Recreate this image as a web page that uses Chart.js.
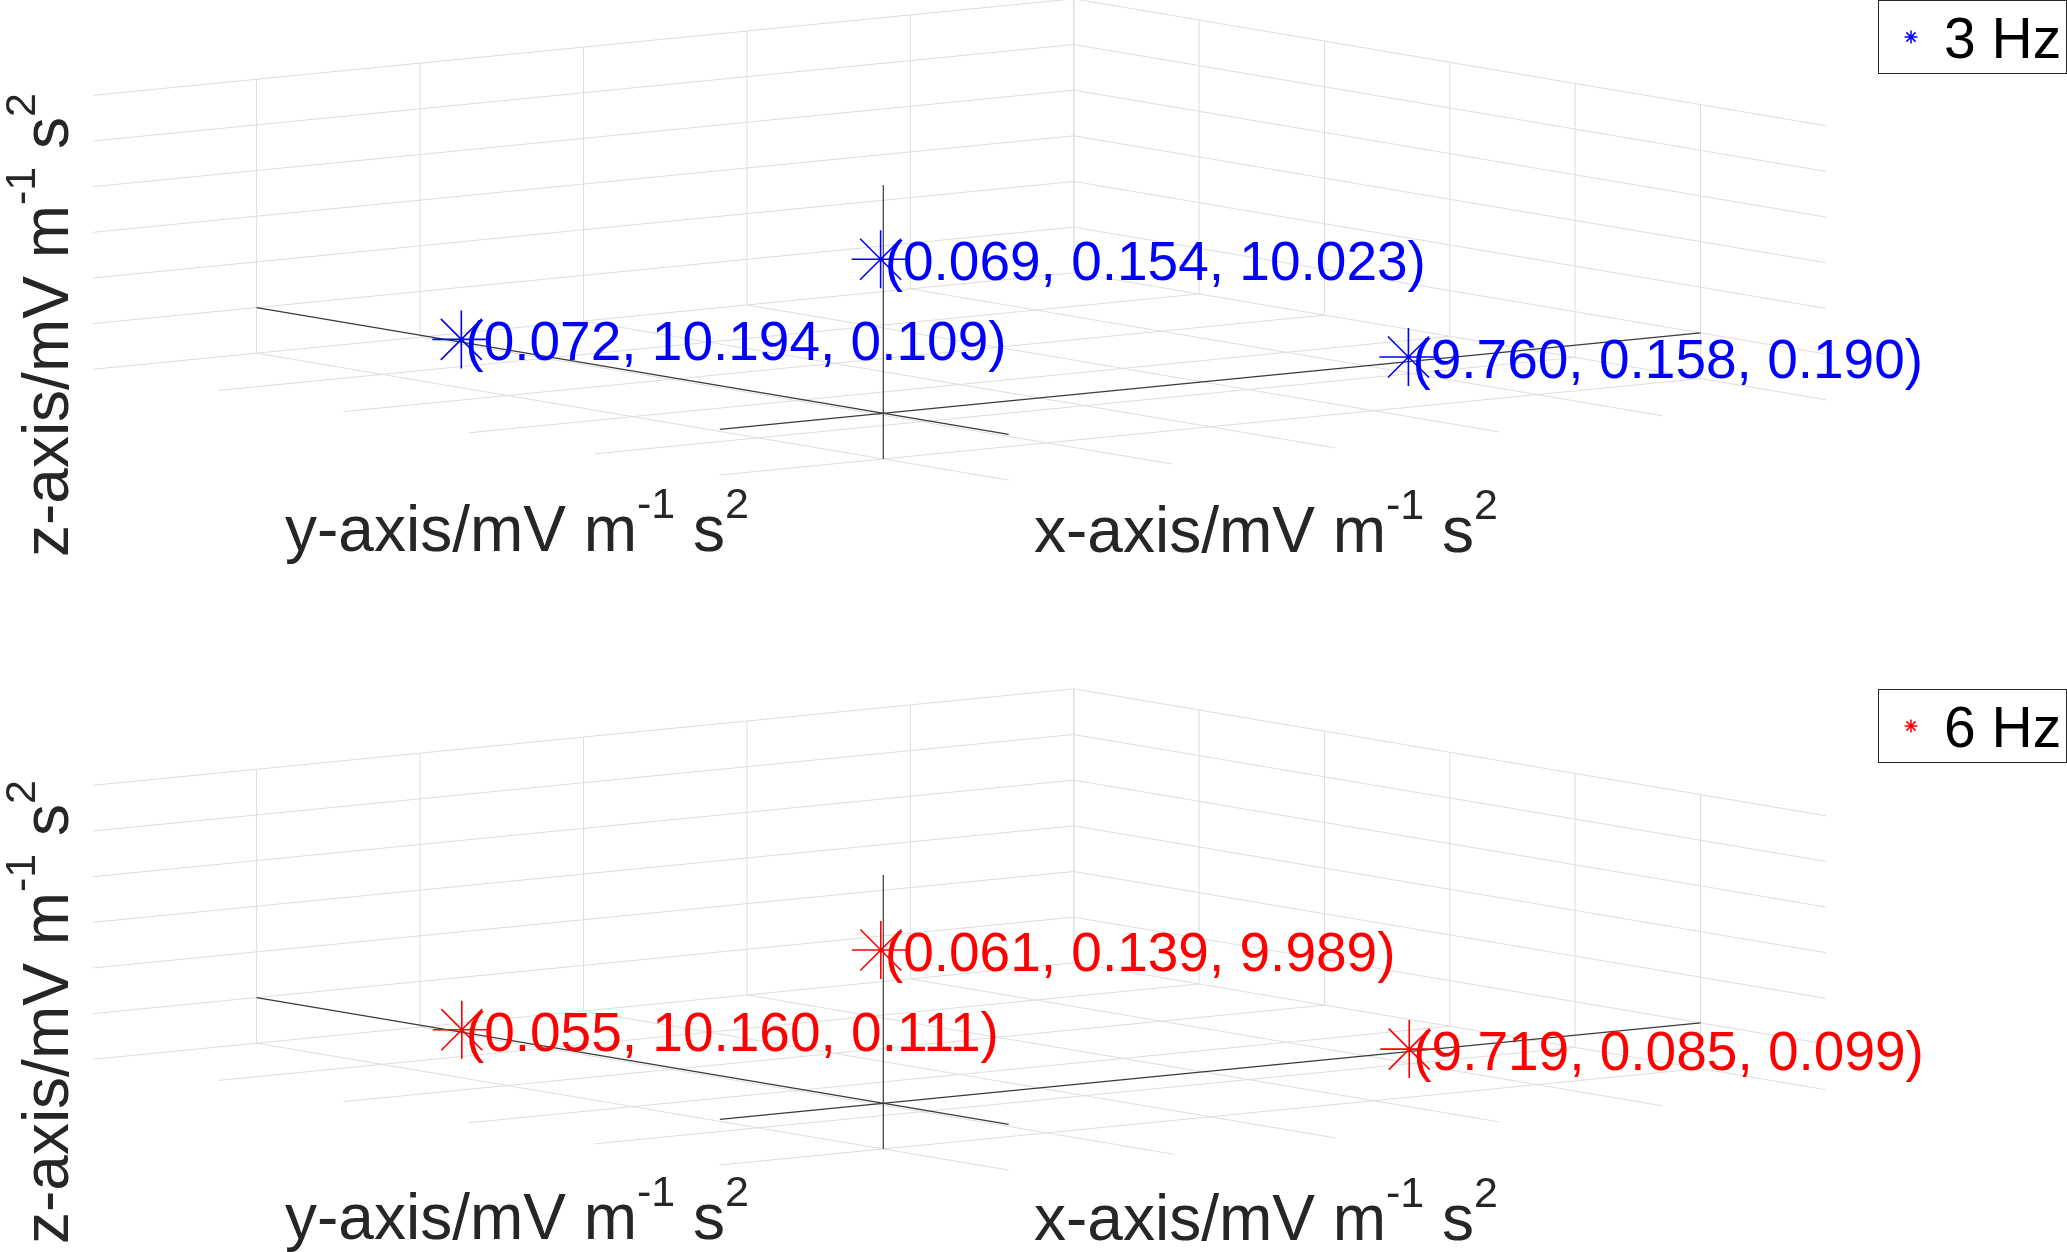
<!DOCTYPE html>
<html>
<head>
<meta charset="utf-8">
<script src="https://cdn.jsdelivr.net/npm/chart.js@4.4.0/dist/chart.umd.min.js"></script>
<style>
  html, body { margin: 0; padding: 0; background: #fff; overflow: hidden; }
  canvas { display: block; }
</style>
</head>
<body>
<canvas id="top" width="2067" height="626"></canvas>
<canvas id="bottom" width="2067" height="626"></canvas>
<script>
// axes: all three run from -3 to 15, grid every 3
const axisRange = [-3, 15];
const gridTicks = [0, 3, 6, 9, 12, 15];

const legendLabels = ['3 Hz', '6 Hz'];

// measured vectors (x, y, z) for the three orientations
const xValues3Hz = [0.069, 0.072, 9.760];
const yValues3Hz = [0.154, 10.194, 0.158];
const zValues3Hz = [10.023, 0.109, 0.190];

const xValues6Hz = [0.061, 0.055, 9.719];
const yValues6Hz = [0.139, 10.160, 0.085];
const zValues6Hz = [9.989, 0.111, 0.099];

// orthographic view, pixels per data unit (y up)
const VIEW = { ex: [54.48, 5.36], ey: [-41.78, 7.05], ez: [0, 15.22] };
const W = 2067, H = 626, ORIGIN_X = 883.3;
const FONT = '"Liberation Sans", Arial, Helvetica, sans-serif';

function project(x, y, z) {
  return {
    x: VIEW.ex[0] * x + VIEW.ey[0] * y + VIEW.ez[0] * z,
    y: VIEW.ex[1] * x + VIEW.ey[1] * y + VIEW.ez[1] * z
  };
}

function gridSegments() {
  const [lo, hi] = axisRange;
  const segs = [];
  gridTicks.forEach(t => {
    segs.push([[t, hi, lo], [t, hi, hi]]);   // back wall y = hi
    segs.push([[lo, hi, t], [hi, hi, t]]);
    segs.push([[hi, t, lo], [hi, t, hi]]);   // back wall x = hi
    segs.push([[hi, lo, t], [hi, hi, t]]);
    segs.push([[t, lo, lo], [t, hi, lo]]);   // floor z = lo
    segs.push([[lo, t, lo], [hi, t, lo]]);
  });
  return segs;
}

function axisSegments() {
  const [lo, hi] = axisRange;
  return [
    [[lo, 0, 0], [hi, 0, 0]],
    [[0, lo, 0], [0, hi, 0]],
    [[0, 0, lo], [0, 0, hi]]
  ];
}

function drawStar(ctx, x, y, r) {
  ctx.beginPath();
  for (let k = 0; k < 4; k++) {
    const a = k * Math.PI / 4;
    ctx.moveTo(x - r * Math.cos(a), y - r * Math.sin(a));
    ctx.lineTo(x + r * Math.cos(a), y + r * Math.sin(a));
  }
  ctx.stroke();
}

function drawUnitLabel(ctx, name, x, y, rotate) {
  ctx.save();
  ctx.translate(x, y);
  if (rotate) ctx.rotate(-Math.PI / 2);
  ctx.fillStyle = '#262626';
  ctx.textAlign = 'left';
  ctx.textBaseline = 'alphabetic';
  const parts = [[name + '-axis/mV m', false], ['-1', true], [' s', false], ['2', true]];
  let cx = 0;
  parts.forEach(([t, sup]) => {
    ctx.font = (sup ? '43px ' : '64px ') + FONT;
    ctx.fillText(t, cx, sup ? -33 : 0);
    cx += ctx.measureText(t).width;
  });
  ctx.restore();
}

function makeDecor(panel) {
  return {
    id: 'decor',
    afterDraw(chart) {
      const ctx = chart.ctx;
      const sx = chart.scales.x, sy = chart.scales.y;
      ctx.save();

      // point annotations
      ctx.font = '55px ' + FONT;
      ctx.fillStyle = panel.color;
      ctx.textAlign = 'left';
      ctx.textBaseline = 'alphabetic';
      panel.xs.forEach((xv, i) => {
        const p = project(xv, panel.ys[i], panel.zs[i]);
        const px = sx.getPixelForValue(p.x), py = sy.getPixelForValue(p.y);
        const txt = '(' + xv.toFixed(3) + ', ' + panel.ys[i].toFixed(3) + ', ' + panel.zs[i].toFixed(3) + ')';
        ctx.fillText(txt, px + 4, py + 21);
      });

      // axis titles
      drawUnitLabel(ctx, 'y', 285, panel.labelBase, false);
      drawUnitLabel(ctx, 'x', 1034, panel.labelBase + 0.5, false);
      drawUnitLabel(ctx, 'z', 68, panel.zLabelStart, true);

      // legend
      const lt = panel.legendTop;
      ctx.fillStyle = '#fff';
      ctx.fillRect(1878.5, lt, 188, 73);
      ctx.strokeStyle = '#262626';
      ctx.lineWidth = 1;
      ctx.strokeRect(1878.5, lt, 188, 73);
      ctx.strokeStyle = panel.color;
      ctx.lineWidth = 1.5;
      drawStar(ctx, 1911, lt + 36.5, 6.5);
      ctx.fillStyle = '#000';
      ctx.font = '57px ' + FONT;
      ctx.fillText(panel.label, 1944, lt + 57);

      ctx.restore();
    }
  };
}

function lineDataset(seg, color, width, order) {
  return {
    type: 'scatter',
    showLine: true,
    data: seg.map(p => project(p[0], p[1], p[2])),
    borderColor: color,
    borderWidth: width,
    pointRadius: 0,
    order: order
  };
}

function buildChart(canvasId, panel) {
  const datasets = [{
    type: 'scatter',
    data: panel.xs.map((xv, i) => project(xv, panel.ys[i], panel.zs[i])),
    pointStyle: 'star',
    pointRadius: 29,
    pointBorderColor: panel.color,
    pointBackgroundColor: 'transparent',
    pointBorderWidth: 1.6,
    order: 0
  }];
  axisSegments().forEach(s => datasets.push(lineDataset(s, '#3a3a3a', 1.2, 1)));
  gridSegments().forEach(s => datasets.push(lineDataset(s, '#dedede', 1, 2)));

  return new Chart(document.getElementById(canvasId).getContext('2d'), {
    type: 'scatter',
    data: { datasets },
    options: {
      responsive: false,
      devicePixelRatio: 1,
      animation: false,
      events: [],
      layout: { padding: 0, autoPadding: false },
      plugins: { legend: { display: false }, tooltip: { enabled: false } },
      scales: {
        x: { type: 'linear', display: false, min: -ORIGIN_X, max: W - ORIGIN_X },
        y: { type: 'linear', display: false, min: -(H - panel.originY), max: panel.originY }
      }
    },
    plugins: [makeDecor(panel)]
  });
}

buildChart('top', {
  label: legendLabels[0], color: '#0000ff',
  xs: xValues3Hz, ys: yValues3Hz, zs: zValues3Hz,
  originY: 413.3, labelBase: 551, zLabelStart: 557, legendTop: 0.5
});
buildChart('bottom', {
  label: legendLabels[1], color: '#ff0000',
  xs: xValues6Hz, ys: yValues6Hz, zs: zValues6Hz,
  originY: 477.3, labelBase: 613, zLabelStart: 618, legendTop: 63.5
});
</script>
</body>
</html>
